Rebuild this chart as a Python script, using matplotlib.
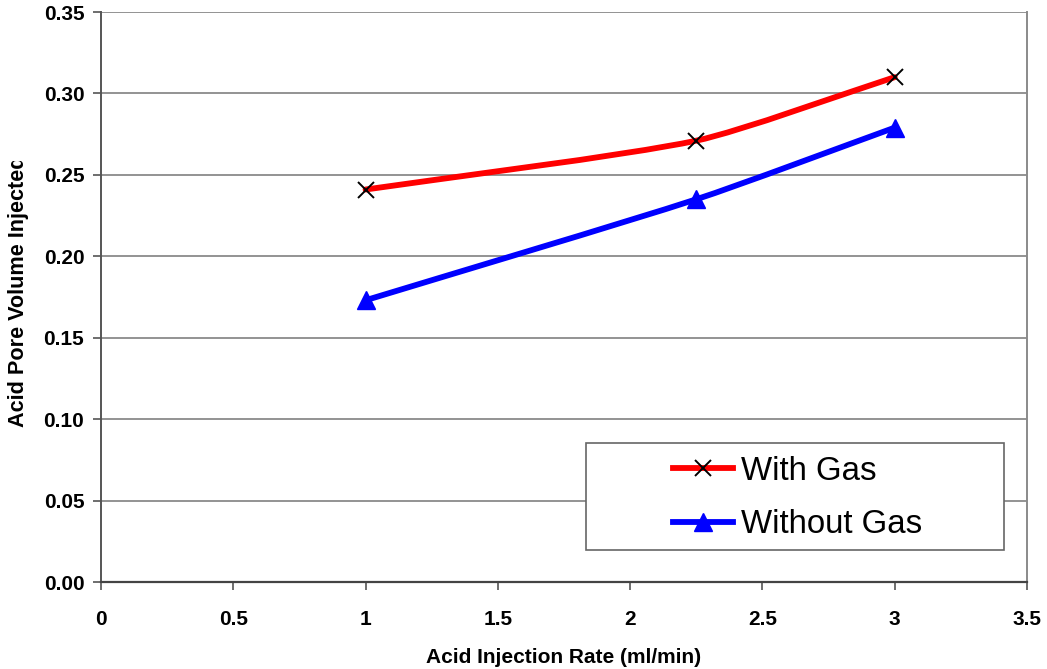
import matplotlib
matplotlib.use("Agg")
import math
import matplotlib.pyplot as plt
from matplotlib.path import Path
from matplotlib.patches import PathPatch, Rectangle
from matplotlib.lines import Line2D
from matplotlib.transforms import Bbox
from matplotlib.ticker import FormatStrFormatter, FuncFormatter

# Data
injection_rate = [1.0, 2.25, 3.0]
with_gas = [0.241, 0.271, 0.310]
without_gas = [0.173, 0.235, 0.279]
series_labels = ["With Gas", "Without Gas"]

x_ticks = [0, 0.5, 1, 1.5, 2, 2.5, 3, 3.5]
y_ticks = [0.00, 0.05, 0.10, 0.15, 0.20, 0.25, 0.30, 0.35]

plt.rcParams["font.family"] = ["Liberation Sans", "DejaVu Sans"]

W, H = 1047, 669
fig = plt.figure(figsize=(W / 100, H / 100), dpi=100)
ax = fig.add_axes([101 / W, 1 - 582 / H, (1027 - 101) / W, (582 - 12) / H])
X_MAX, Y_MAX = 3.5, 0.35
SX = (1027 - 101) / X_MAX   # screen units per x unit
SY = (582 - 12) / Y_MAX     # screen units per y unit


def smooth_path(xs, ys, k=0.22):
    """Cubic Bezier path through the points, tangents set in screen space."""
    pts = [(x * SX, y * SY) for x, y in zip(xs, ys)]
    n = len(pts)

    def tangent(i):
        a = pts[max(i - 1, 0)]
        b = pts[min(i + 1, n - 1)]
        dx, dy = b[0] - a[0], b[1] - a[1]
        d = math.hypot(dx, dy)
        return dx / d, dy / d

    verts = [pts[0]]
    codes = [Path.MOVETO]
    for i in range(n - 1):
        p1, p2 = pts[i], pts[i + 1]
        seg = math.hypot(p2[0] - p1[0], p2[1] - p1[1])
        t1, t2 = tangent(i), tangent(i + 1)
        c1 = (p1[0] + t1[0] * seg * k, p1[1] + t1[1] * seg * k)
        c2 = (p2[0] - t2[0] * seg * k, p2[1] - t2[1] * seg * k)
        verts += [c1, c2, p2]
        codes += [Path.CURVE4] * 3
    verts = [(vx / SX, vy / SY) for vx, vy in verts]
    return Path(verts, codes)


red = "#ff0000"
blue = "#0000ff"
lw = 4.2

for ys, col in [(with_gas, red), (without_gas, blue)]:
    ax.add_patch(PathPatch(smooth_path(injection_rate, ys), facecolor="none",
                           edgecolor=col, linewidth=lw, capstyle="round",
                           joinstyle="round", zorder=3))

ax.plot(injection_rate, with_gas, linestyle="none", marker="x", color="black",
        markersize=12, markeredgewidth=1.4, zorder=4)
ax.plot(injection_rate, without_gas, linestyle="none", marker="^", color=blue,
        markersize=13, zorder=4)

ax.set_xlim(0, X_MAX)
ax.set_ylim(0, Y_MAX)
ax.set_xticks(x_ticks)
ax.set_yticks(y_ticks)
ax.xaxis.set_major_formatter(FuncFormatter(lambda v, p: f"{v:g}"))
ax.yaxis.set_major_formatter(FormatStrFormatter("%.2f"))

for lab in ax.get_xticklabels() + ax.get_yticklabels():
    lab.set_fontweight("bold")
    lab.set_fontsize(15)

ax.tick_params(axis="y", direction="out", length=6, width=1.2, color="#555555", pad=6)
ax.tick_params(axis="x", direction="out", length=6, width=1.2, color="#555555", pad=14)

ax.grid(axis="y", color="#8a8a8a", linewidth=1.3)
ax.set_axisbelow(True)
ax.spines["top"].set_visible(False)
ax.spines["left"].set_color("#555555")
ax.spines["left"].set_linewidth(1.4)
ax.spines["bottom"].set_color("#444444")
ax.spines["bottom"].set_linewidth(1.6)
ax.spines["right"].set_color("#8a8a8a")
ax.spines["right"].set_linewidth(1.4)

ax.set_xlabel("Acid Injection Rate (ml/min)", fontsize=15, fontweight="bold",
              labelpad=14)

# Y axis title, cut off at the top
ytitle = fig.text(19 / W, 1 - 291 / H, "Acid Pore Volume Injected", rotation=90,
                  ha="center", va="center", fontsize=15.6, fontweight="bold")
ytitle.set_clip_box(Bbox.from_extents(0, 0, 60, H - 161))
ytitle.set_clip_on(True)

# Legend box
fig.patches.append(Rectangle((586 / W, 1 - 550 / H), (1004 - 586) / W, (550 - 443) / H,
                             transform=fig.transFigure, facecolor="white",
                             edgecolor="#666666", linewidth=1.2, zorder=5))
handles = [
    Line2D([], [], color=red, linewidth=lw, marker="x", markeredgecolor="black",
           markersize=12, markeredgewidth=1.4),
    Line2D([], [], color=blue, linewidth=lw, marker="^", markerfacecolor=blue,
           markeredgecolor=blue, markersize=13),
]
leg = fig.legend(handles, series_labels, loc="center",
                 bbox_to_anchor=(798 / W, 1 - 498 / H), frameon=False,
                 fontsize=23.8, handlelength=1.8, handletextpad=0.25,
                 labelspacing=0.68, markerscale=1.0)
leg.set_zorder(6)

fig.savefig("out.png", dpi=100, facecolor="white")
